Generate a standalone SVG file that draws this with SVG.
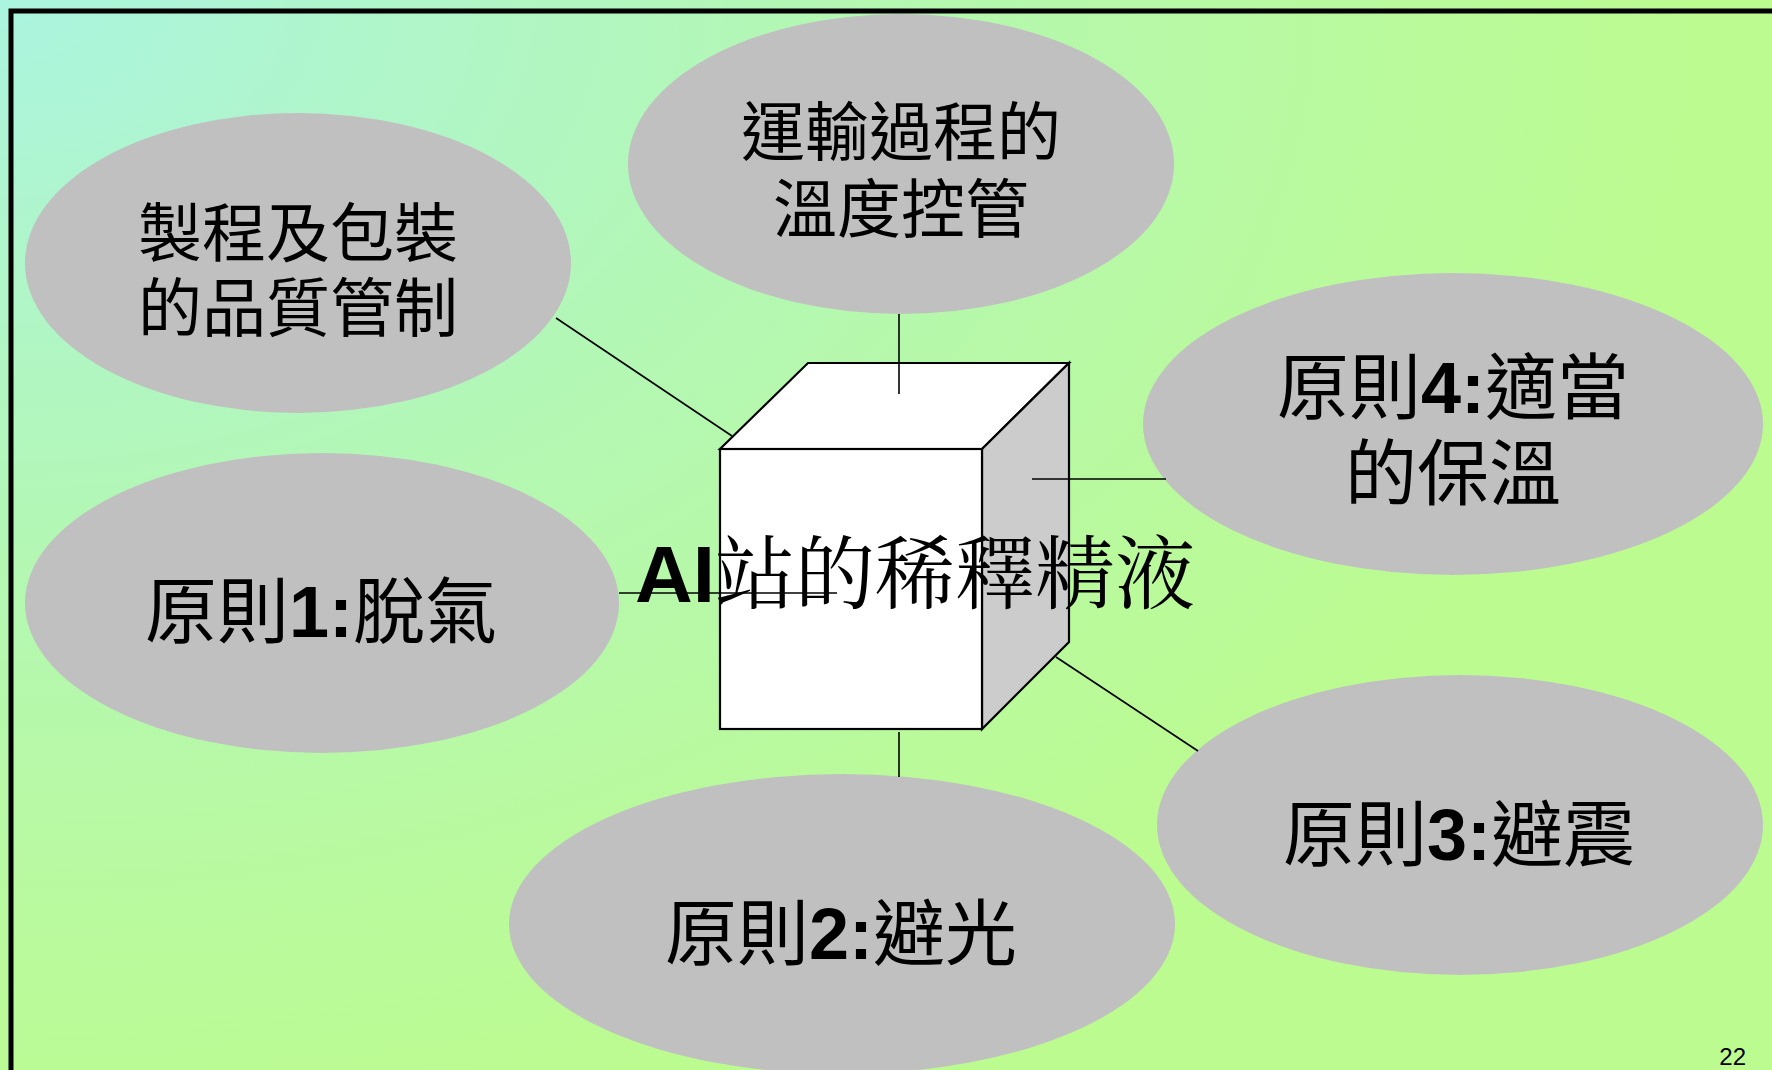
<svg xmlns="http://www.w3.org/2000/svg" width="1772" height="1070" viewBox="0 0 1772 1070">
<defs>
<radialGradient id="bg" cx="0" cy="0" r="1" gradientUnits="userSpaceOnUse" gradientTransform="translate(0,0) scale(1700,1150)">
<stop offset="0" stop-color="#abf4df"/>
<stop offset="0.45" stop-color="#b3f7b6"/>
<stop offset="1" stop-color="#bcfb90"/>
</radialGradient>
<style>
.ell{fill:#c0c0c0;stroke:none}
.con{stroke:#000;stroke-width:1.6;fill:none}
.cube{stroke:#000;stroke-width:2.2;stroke-linejoin:miter}
.lbl{font-family:"Noto Sans CJK TC","Noto Sans CJK SC",sans-serif;fill:#000;text-anchor:middle}
.title{font-family:"Noto Serif CJK TC","Noto Sans CJK TC","Noto Sans CJK SC",sans-serif;fill:#000;text-anchor:middle}
.num{font-family:"Liberation Sans",Arial,sans-serif;font-weight:bold}
</style>
</defs>
<rect x="0" y="0" width="1772" height="1070" fill="url(#bg)"/>
<path d="M11,1070 V11 H1772" fill="none" stroke="#000" stroke-width="5"/>
<g id="node-packaging"><ellipse class="ell" cx="298" cy="263" rx="273" ry="150"/>
<text class="lbl" font-size="64" x="298" y="256">製程及包裝</text>
<text class="lbl" font-size="64" x="298" y="331">的品質管制</text></g>
<g id="node-transport"><ellipse class="ell" cx="901" cy="164" rx="273" ry="150"/>
<text class="lbl" font-size="64" x="901" y="155">運輸過程的</text>
<text class="lbl" font-size="64" x="901" y="232">溫度控管</text></g>
<g id="node-p4"><ellipse class="ell" cx="1453" cy="424" rx="310" ry="151"/>
<text class="lbl" font-size="72" x="1453" y="413">原則<tspan class="num">4:</tspan>適當</text>
<text class="lbl" font-size="72" x="1453" y="499">的保溫</text></g>
<g id="node-p1"><ellipse class="ell" cx="322" cy="603" rx="297" ry="150"/>
<text class="lbl" font-size="72" x="321" y="637">原則<tspan class="num">1:</tspan>脫氣</text></g>
<g id="node-p2"><ellipse class="ell" cx="842" cy="924" rx="333" ry="150"/>
<text class="lbl" font-size="72" x="841" y="959">原則<tspan class="num">2:</tspan>避光</text></g>
<g id="node-p3"><ellipse class="ell" cx="1460" cy="825" rx="303" ry="150"/>
<text class="lbl" font-size="72" x="1459" y="860">原則<tspan class="num">3:</tspan>避震</text></g>
<g id="node-center">
<polygon class="cube" fill="#ffffff" points="720,449 808,363 1069,363 982,449"/>
<polygon class="cube" fill="#cccccc" points="982,449 1069,363 1069,642 982,729"/>
<rect class="cube" fill="#ffffff" x="720" y="449" width="262" height="280"/>
</g>
<g id="connectors">
<line class="con" x1="556" y1="318" x2="732" y2="436"/>
<line class="con" x1="899" y1="314" x2="899" y2="394"/>
<line class="con" x1="1032" y1="479" x2="1166" y2="479"/>
<line class="con" x1="619" y1="593" x2="837" y2="593"/>
<line class="con" x1="1056" y1="657" x2="1198" y2="751"/>
<line class="con" x1="899" y1="732" x2="899" y2="777"/>
</g>
<text class="title" font-size="80" x="915" y="602"><tspan class="num">AI</tspan>站的稀釋精液</text>
<text x="1746" y="1065" font-family="Liberation Sans,Arial,sans-serif" font-size="24" text-anchor="end">22</text>
</svg>
